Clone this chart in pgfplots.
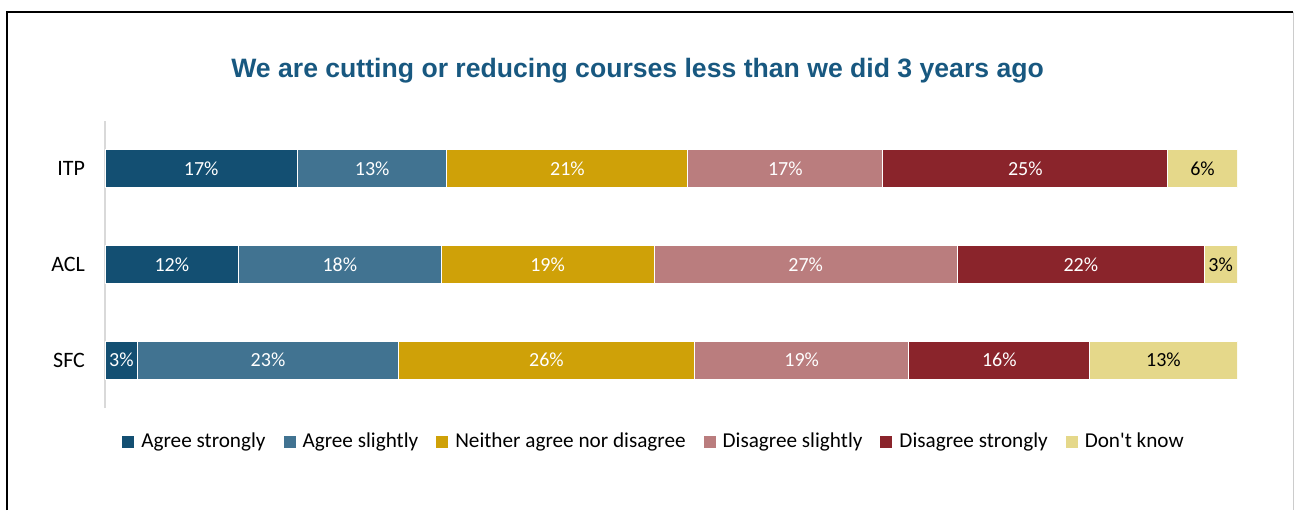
\documentclass[border=0pt]{standalone}
\usepackage{fontspec}
\setmainfont{Carlito}
\newfontfamily\titlefont{Liberation Sans}
\usepackage{pgfplots}
\usepackage{pgfplotstable}
\pgfplotsset{compat=1.18}
\definecolor{cAS}{RGB}{19,79,114}
\definecolor{cASl}{RGB}{65,115,145}
\definecolor{cN}{RGB}{207,161,8}
\definecolor{cDS}{RGB}{186,125,126}
\definecolor{cDSt}{RGB}{138,36,43}
\definecolor{cDK}{RGB}{229,216,138}
\definecolor{ctitle}{RGB}{24,88,128}
\pgfplotstableread{
cat AS ASl N DS DSt DK
0 2.9 23.0 26.2 18.9 16.0 13.0
1 11.8 17.9 18.8 26.8 21.8 2.9
2 17.0 13.2 21.3 17.2 25.2 6.1
}\data
\pgfplotsset{
  lbl/.style={
    visualization depends on={\thisrow{#1} \as \w},
    nodes near coords={\pgfmathprintnumber[fixed,precision=0]{\w}\%},
    every node near coord/.append style={anchor=center, font=\fontsize{10}{12}\selectfont},
  },
}
\begin{document}
\begin{tikzpicture}
\useasboundingbox (0,0) rectangle (647.5pt,255pt);
\draw[black, line width=0.8pt] (3.6pt,0) -- (3.6pt,249pt) -- (646.7pt,249pt);
\draw[gray!40, line width=0.5pt] (646.7pt,249pt) -- (646.7pt,0);
\node[anchor=base, text=ctitle, font=\titlefont\bfseries\fontsize{13.3}{15}\selectfont] at (318.8pt,216pt) {We are cutting or reducing courses less than we did 3 years ago};
\begin{axis}[
  at={(52.5pt,51pt)}, anchor=south west,
  scale only axis, width=566pt, height=143.5pt,
  xbar stacked, bar width=19pt,
  xmin=0, xmax=100, ymin=-0.5, ymax=2.5,
  hide x axis,
  axis y line*=left,
  y axis line style={draw=black!15, line width=0.8pt, -},
  ytick={0,1,2}, yticklabels={SFC,ACL,ITP},
  major tick length=0pt,
  yticklabel style={font=\fontsize{11}{13}\selectfont, xshift=-6.5pt},
  /pgf/number format/assume math mode=true,
  legend columns=6,
  legend style={at={(0.485,0)}, yshift=-17pt, anchor=center, draw=none, fill=none,
    font=\fontsize{10.6}{12}\selectfont, nodes={inner sep=1pt},
    /tikz/every odd column/.append style={column sep=2.5pt},
    /tikz/every even column/.append style={column sep=8pt}},
  legend image code/.code={\fill[#1, draw=none] (0pt,-3pt) rectangle (6pt,3pt);},
  every axis plot/.append style={draw=white, line width=0.5pt},
]
\addplot[fill=cAS, lbl=AS, every node near coord/.append style={text=white}] table[x=AS, y=cat]{\data};
\addlegendentry{Agree strongly}
\addplot[fill=cASl, lbl=ASl, every node near coord/.append style={text=white}] table[x=ASl, y=cat]{\data};
\addlegendentry{Agree slightly}
\addplot[fill=cN, lbl=N, every node near coord/.append style={text=white}] table[x=N, y=cat]{\data};
\addlegendentry{Neither agree nor disagree}
\addplot[fill=cDS, lbl=DS, every node near coord/.append style={text=white}] table[x=DS, y=cat]{\data};
\addlegendentry{Disagree slightly}
\addplot[fill=cDSt, lbl=DSt, every node near coord/.append style={text=white}] table[x=DSt, y=cat]{\data};
\addlegendentry{Disagree strongly}
\addplot[fill=cDK, lbl=DK, every node near coord/.append style={text=black}] table[x=DK, y=cat]{\data};
\addlegendentry{Don\textquotesingle t know}
\end{axis}
\end{tikzpicture}
\end{document}
